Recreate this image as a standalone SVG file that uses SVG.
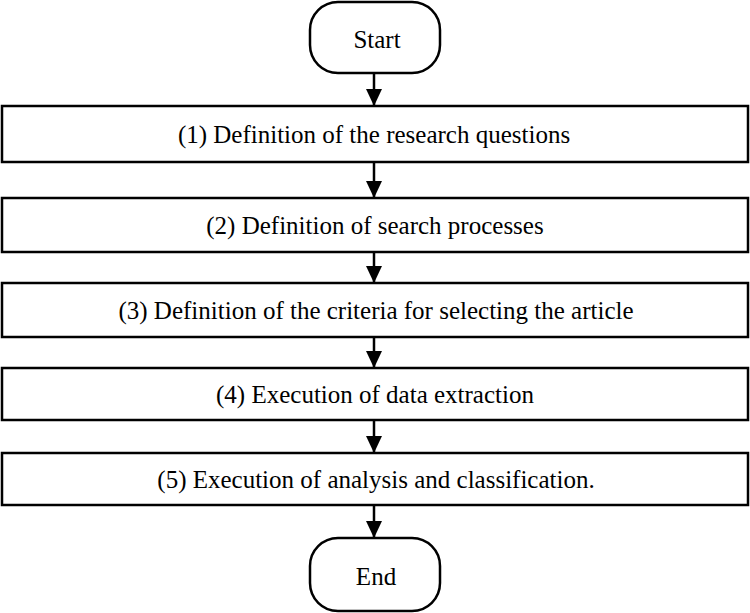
<svg xmlns="http://www.w3.org/2000/svg" width="750" height="613" viewBox="0 0 750 613">
<style>
.box{fill:#fff;stroke:#000;stroke-width:2.5}
.t{font-family:"Liberation Serif","Times New Roman",serif;font-size:25px;fill:#000;text-anchor:middle}
.c{stroke:#000;stroke-width:2.5;fill:none}
</style>
<defs>
<marker id="ah" viewBox="0 0 17 16" refX="17" refY="8" markerWidth="17" markerHeight="16" markerUnits="userSpaceOnUse" orient="auto">
<path d="M0,0 L17,8 L0,16 Z" fill="#000"/>
</marker>
</defs>
<rect width="750" height="613" fill="#fff"/>
<g id="connectors">
<line class="c" x1="374" y1="73" x2="374" y2="106" marker-end="url(#ah)"/>
<line class="c" x1="374" y1="162" x2="374" y2="198" marker-end="url(#ah)"/>
<line class="c" x1="374" y1="252" x2="374" y2="283" marker-end="url(#ah)"/>
<line class="c" x1="374" y1="337" x2="374" y2="368" marker-end="url(#ah)"/>
<line class="c" x1="374" y1="420" x2="374" y2="453" marker-end="url(#ah)"/>
<line class="c" x1="374" y1="505" x2="374" y2="538" marker-end="url(#ah)"/>
</g>
<g id="start">
<rect class="box" x="310" y="2" width="130" height="71" rx="28" ry="28"/>
<text class="t" x="377" y="48">Start</text>
</g>
<g id="step1">
<rect class="box" x="2" y="106" width="746" height="56"/>
<text class="t" x="374" y="143">(1) Definition of the research questions</text>
</g>
<g id="step2">
<rect class="box" x="2" y="198" width="746" height="54"/>
<text class="t" x="375" y="234">(2) Definition of search processes</text>
</g>
<g id="step3">
<rect class="box" x="2" y="283" width="746" height="54"/>
<text class="t" x="376" y="319">(3) Definition of the criteria for selecting the article</text>
</g>
<g id="step4">
<rect class="box" x="2" y="368" width="746" height="52"/>
<text class="t" x="375" y="403">(4) Execution of data extraction</text>
</g>
<g id="step5">
<rect class="box" x="2" y="453" width="746" height="52"/>
<text class="t" x="376" y="488">(5) Execution of analysis and classification.</text>
</g>
<g id="end">
<rect class="box" x="310" y="538" width="130" height="73" rx="28" ry="28"/>
<text class="t" x="376" y="585">End</text>
</g>
</svg>
